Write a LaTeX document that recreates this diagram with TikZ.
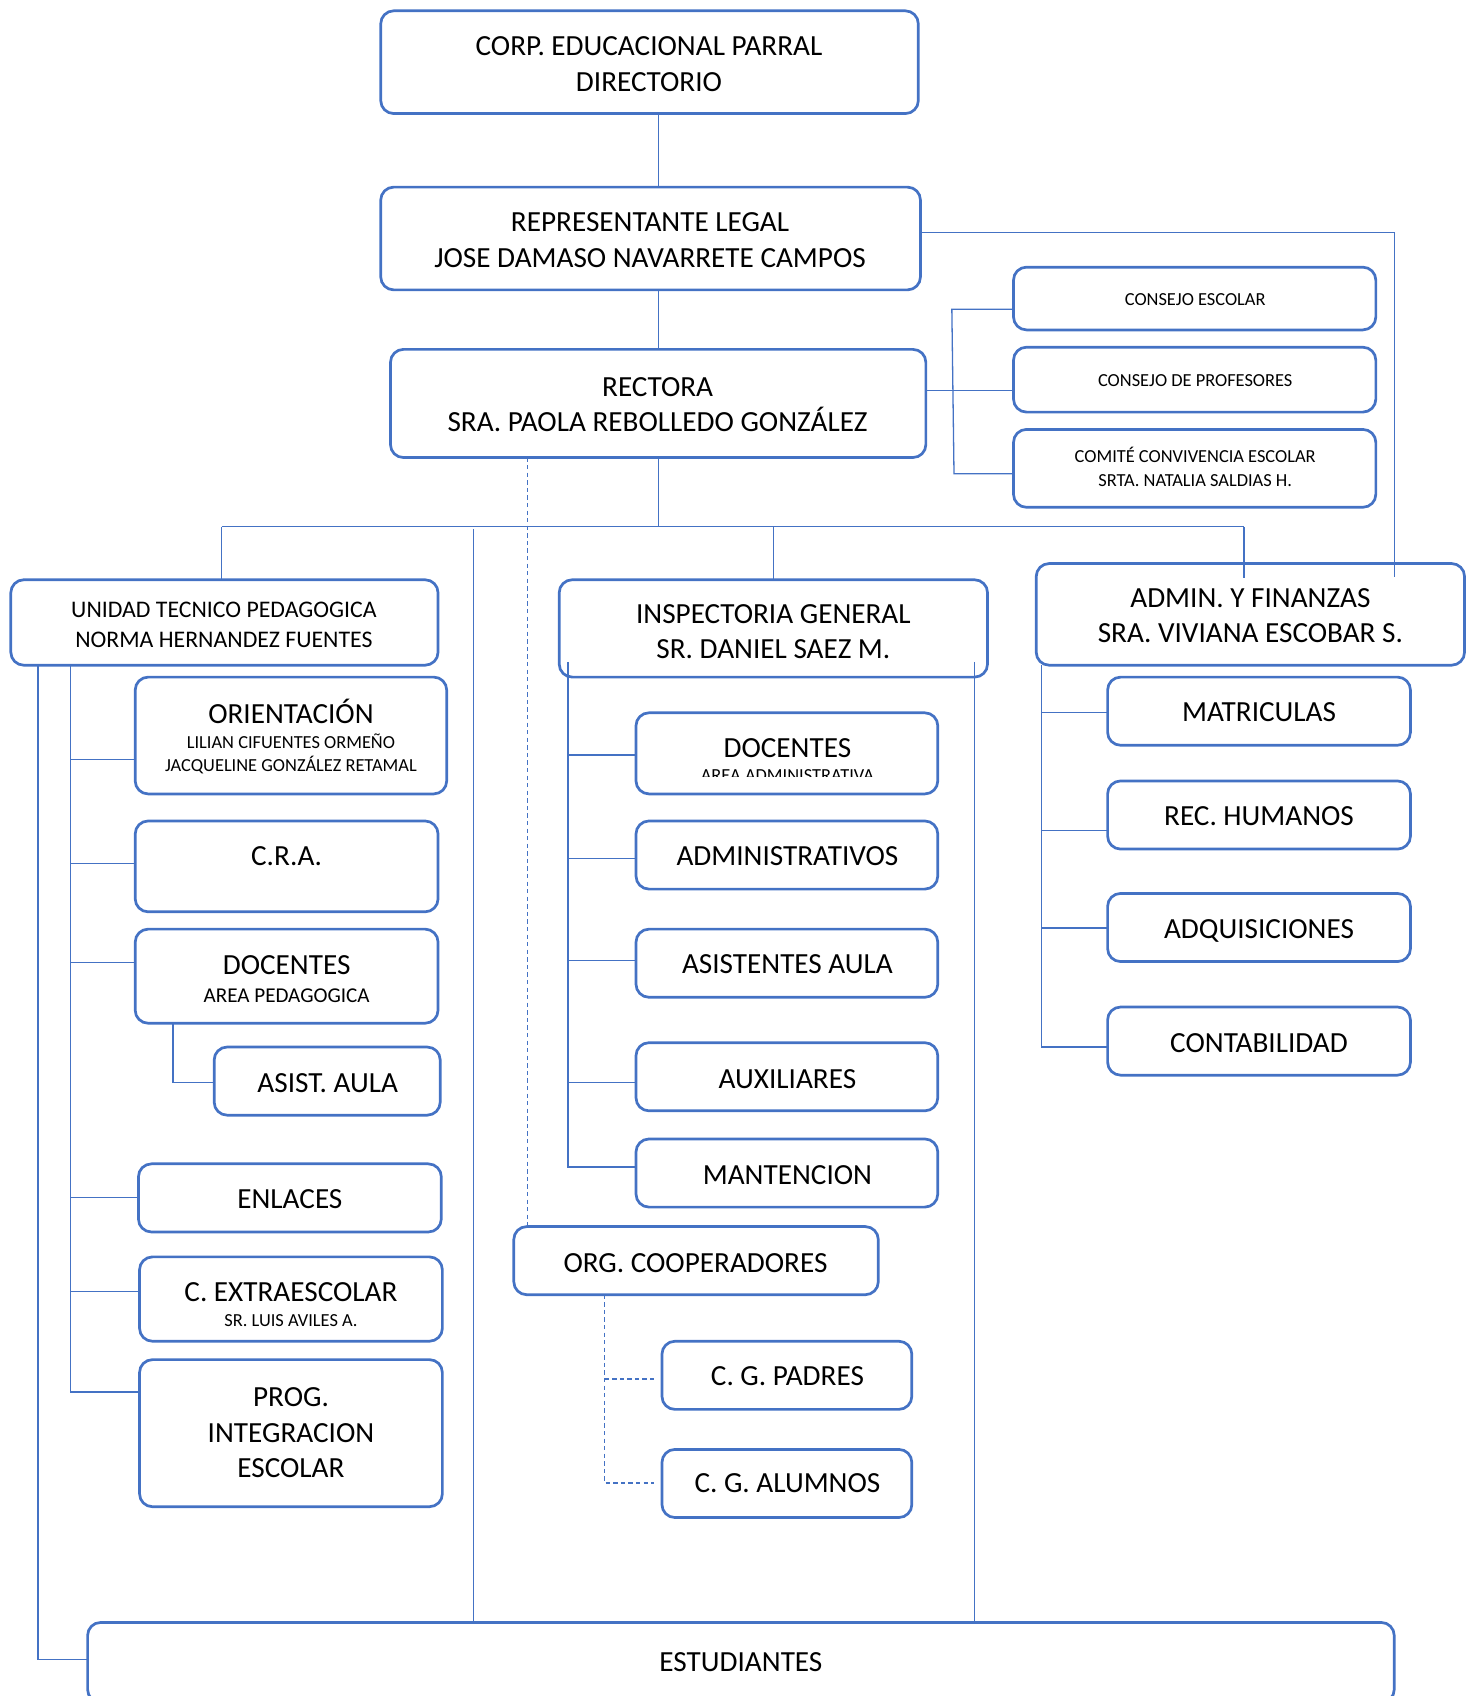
\documentclass[tikz,border=0pt]{standalone}
\usepackage{fontspec}
\setmainfont{Carlito}
\definecolor{bl}{HTML}{4472C4}
\newcommand\FBig{\fontsize{13.5pt}{16.5pt}\selectfont}
\newcommand\FUtp{\fontsize{11pt}{13.5pt}\selectfont}
\newcommand\FMid{\fontsize{9.75pt}{12pt}\selectfont}
\newcommand\FSm{\fontsize{8.5pt}{10.5pt}\selectfont}
\tikzset{
  box/.style={rectangle,draw=bl,line width=1.25pt,rounded corners=6pt,inner sep=0pt,outer sep=0pt},
  conn/.style={draw=bl,line width=0.6pt},
  dsh/.style={conn,dash pattern=on 2pt off 1.5pt},
  txt/.style={inner sep=0pt,outer sep=0pt,anchor=base,text=black}
}
\newcommand\Bx[5]{\node[box,minimum width={(#4-#2)/2},minimum height={(#5-#3)/2}] (#1) at ({(#2+#4)/2},{(#3+#5)/2}) {};}
\newcommand\Tl[4]{\node[txt,font=#2] (#1) at (#3) {#4};}
\begin{document}
\begin{tikzpicture}[x=0.5pt,y=-0.5pt]
\useasboundingbox (0,0) rectangle (1363,1568);
% boxes
\Bx{corp}{352}{10}{849}{105}
\Bx{rep}{352}{173}{851}{268}
\Bx{rect}{361}{323}{856}{423}
\Bx{ces}{937}{247}{1272}{305}
\Bx{prof}{937}{321}{1272}{381}
\Bx{com}{937}{397}{1272}{469}
\Bx{utp}{10}{536}{405}{615}
\Bx{insp}{517}{536}{913}{626}
\Bx{adm}{958}{521}{1354}{615}
\Bx{ori}{125}{626}{413}{734}
\Bx{cra}{125}{759}{405}{843}
\Bx{doc1}{125}{859}{405}{946}
\Bx{asist}{198}{968}{407}{1031}
\Bx{enl}{128}{1076}{408}{1139}
\Bx{cex}{129}{1162}{409}{1240}
\Bx{prog}{129}{1257}{409}{1393}
\Bx{doc2}{588}{659}{867}{734}
\Bx{admv}{588}{759}{867}{822}
\Bx{asis}{588}{859}{867}{922}
\Bx{aux}{588}{964}{867}{1027}
\Bx{mant}{588}{1053}{867}{1116}
\Bx{org}{475}{1134}{812}{1197}
\Bx{pad}{612}{1240}{843}{1303}
\Bx{alu}{612}{1340}{843}{1403}
\Bx{mat}{1024}{626}{1304}{689}
\Bx{rec}{1024}{722}{1304}{785}
\Bx{adq}{1024}{826}{1304}{889}
\Bx{cont}{1024}{931}{1304}{994}
\Bx{est}{81}{1500}{1289}{1574}
% texts
\Tl{t1a}{\FBig}{600,51.2}{CORP. EDUCACIONAL PARRAL}
\Tl{t1b}{\FBig}{600,84.2}{DIRECTORIO}
\Tl{t2a}{\FBig}{601,214.2}{REPRESENTANTE LEGAL}
\Tl{t2b}{\FBig}{601,247.2}{JOSE DAMASO NAVARRETE CAMPOS}
\Tl{t3a}{\FBig}{608,366.2}{RECTORA}
\Tl{t3b}{\FBig}{608,399.2}{SRA. PAOLA REBOLLEDO GONZÁLEZ}
\Tl{t4}{\FSm}{1105,282}{CONSEJO ESCOLAR}
\Tl{t5}{\FSm}{1105,357}{CONSEJO DE PROFESORES}
\Tl{t6a}{\FSm}{1105,428}{COMITÉ CONVIVENCIA ESCOLAR}
\Tl{t6b}{\FSm}{1105,450}{SRTA. NATALIA SALDIAS H.}
\Tl{t7a}{\FUtp}{207,570.6}{UNIDAD TECNICO PEDAGOGICA}
\Tl{t7b}{\FUtp}{207,598.6}{NORMA HERNANDEZ FUENTES}
\Tl{t8a}{\FBig}{715,576.2}{INSPECTORIA GENERAL}
\Tl{t8b}{\FBig}{715,609.2}{SR. DANIEL SAEZ M.}
\Tl{t9a}{\FBig}{1156,561.2}{ADMIN. Y FINANZAS}
\Tl{t9b}{\FBig}{1156,594.2}{SRA. VIVIANA ESCOBAR S.}
\Tl{t10a}{\FBig}{269,669.2}{ORIENTACIÓN}
\Tl{t10b}{\FSm}{269,692}{LILIAN CIFUENTES ORMEÑO}
\Tl{t10c}{\FSm}{269,713}{JACQUELINE GONZÁLEZ RETAMAL}
\Tl{t11}{\FBig}{265,800.2}{C.R.A.}
\Tl{t12a}{\FBig}{265,901.2}{DOCENTES}
\Tl{t12b}{\FMid}{265,926.8}{AREA PEDAGOGICA}
\Tl{t13}{\FBig}{303,1010.2}{ASIST. AULA}
\Tl{t14}{\FBig}{268,1117.2}{ENLACES}
\Tl{t15a}{\FBig}{269,1203.2}{C. EXTRAESCOLAR}
\Tl{t15b}{\FSm}{269,1226}{SR. LUIS AVILES A.}
\Tl{t16a}{\FBig}{269,1300.2}{PROG.}
\Tl{t16b}{\FBig}{269,1333.2}{INTEGRACION}
\Tl{t16c}{\FBig}{269,1366.2}{ESCOLAR}
\Tl{t17a}{\FBig}{728,700.2}{DOCENTES}
\begin{scope}
\clip (588,659) rectangle (867,718);
\Tl{t17b}{\FSm}{728,722.5}{AREA ADMINISTRATIVA}
\end{scope}
\Tl{t18}{\FBig}{728,800.2}{ADMINISTRATIVOS}
\Tl{t19}{\FBig}{728,900.2}{ASISTENTES AULA}
\Tl{t20}{\FBig}{728,1006.2}{AUXILIARES}
\Tl{t21}{\FBig}{728,1095.2}{MANTENCION}
\Tl{t22}{\FBig}{643,1176.2}{ORG. COOPERADORES}
\Tl{t23}{\FBig}{728,1281.2}{C. G. PADRES}
\Tl{t24}{\FBig}{728,1380.2}{C. G. ALUMNOS}
\Tl{t25}{\FBig}{1164,667.2}{MATRICULAS}
\Tl{t26}{\FBig}{1164,763.2}{REC. HUMANOS}
\Tl{t27}{\FBig}{1164,867.2}{ADQUISICIONES}
\Tl{t28}{\FBig}{1164,973.2}{CONTABILIDAD}
\Tl{t29}{\FBig}{685,1545.2}{ESTUDIANTES}
% connectors: top chain
\draw[conn] (corp.south -| rect) -- (rep.north -| rect);
\draw[conn] (rep.south -| rect) -- (rect.north);
\coordinate (rr) at (1289,215);
\coordinate (rrEnd) at (1289,533);
\draw[conn] (rep.east |- rr) -- (rr) -- (rrEnd);
% councils bracket
\coordinate (bt) at (880,286);
\coordinate (bb) at (882,438);
\coordinate (bm) at (881,361);
\draw[conn] (ces.west |- bt) -- (bt) -- (bb) -- (com.west |- bb);
\draw[conn] (rect.east |- bm) -- (prof.west |- bm);
% main bus
\coordinate (busL) at (205,487);
\coordinate (busR) at (1150,487);
\coordinate (busRend) at (1150,534);
\draw[conn] (rect.south) -- (rect.south |- busL);
\draw[conn] (busL) -- (busR);
\draw[conn] (busL) -- (busL |- utp.north);
\draw[conn] (insp.north |- busL) -- (insp.north);
\draw[conn] (busR) -- (busRend);
\coordinate (v1) at (438,489);
\draw[conn] (v1) -- (v1 |- est.north);
\coordinate (v2) at (901,612);
\draw[conn] (v2) -- (v2 |- est.north);
\coordinate (d1) at (488,423);
\draw[dsh] (d1 |- rect.south) -- (d1 |- org.north);
% UTP branch
\coordinate (u0) at (35,1534);
\draw[conn] (u0 |- utp.south) -- (u0) -- (u0 -| est.west);
\coordinate (u1) at (65,1287);
\draw[conn] (u1 |- utp.south) -- (u1) -- (u1 -| prog.west);
\foreach \yy/\nn in {702/ori,798/cra,890/doc1,1107/enl,1194/cex}{
  \coordinate (h) at (65,\yy);
  \draw[conn] (h) -- (h -| \nn.west);
}
\coordinate (da) at (160,1001);
\draw[conn] (doc1.south -| da) -- (da) -- (asist.west |- da);
% Inspectoria branch
\coordinate (i1) at (525,1079);
\draw[conn] (i1 |- v2) -- (i1) -- (i1 -| mant.west);
\foreach \yy/\nn in {698/doc2,794/admv,888/asis,1001/aux}{
  \coordinate (h) at (525,\yy);
  \draw[conn] (h) -- (h -| \nn.west);
}
% Admin branch
\coordinate (a1) at (963,968);
\draw[conn] (a1 |- adm.south) -- (a1) -- (a1 -| cont.west);
\foreach \yy/\nn in {659/mat,768/rec,858/adq}{
  \coordinate (h) at (963,\yy);
  \draw[conn] (h) -- (h -| \nn.west);
}
% Org. cooperadores
\coordinate (o1) at (559,1371);
\coordinate (o1e) at (605,1371);
\coordinate (o2) at (559,1275);
\coordinate (o2e) at (605,1275);
\draw[dsh] (o1 |- org.south) -- (o1) -- (o1e);
\draw[dsh] (o2) -- (o2e);
\end{tikzpicture}
\end{document}
